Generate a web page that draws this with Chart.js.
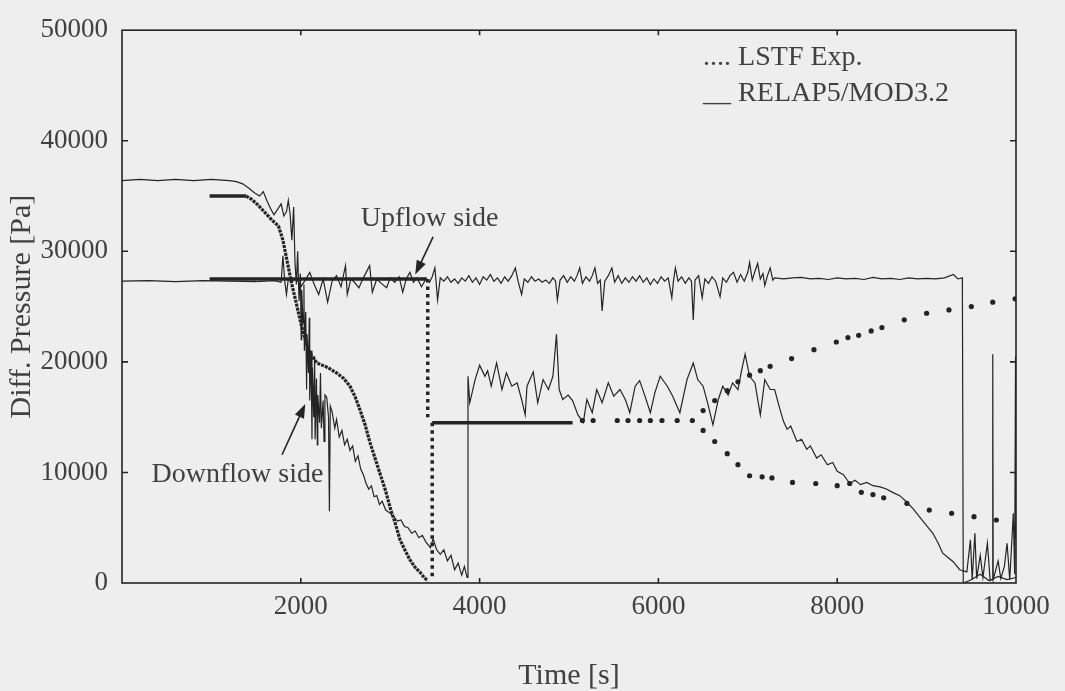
<!DOCTYPE html>
<html lang="en">
<head>
<meta charset="UTF-8">
<title>Diff. Pressure</title>
<script src="https://cdn.jsdelivr.net/npm/chart.js@4"></script>
<style>
  html, body { margin: 0; padding: 0; background: #eeeeee; }
  #wrap { width: 1065px; height: 691px; }
</style>
</head>
<body>
<div id="wrap"><canvas id="chart" width="1065" height="691"></canvas></div>
<script>
// tick values
const xTicks = [2000, 4000, 6000, 8000, 10000];
const yTicks = [0, 10000, 20000, 30000, 40000, 50000];

// RELAP5/MOD3.2, upflow side [time s, dp Pa]
const relapUp = [[0,27300],[300,27350],[600,27250],[900,27350],[1200,27300],[1500,27250],[1700,27350],[1780,27200],[1800,29600],[1820,27300],[1840,26100],[1860,27500],[1900,27200],[1950,27600],[2000,26800],[2050,27400],[2100,28100],[2150,27000],[2200,26100],[2250,27500],[2300,25400],[2350,27300],[2400,27800],[2450,26800],[2500,28700],[2520,26100],[2560,27500],[2600,27200],[2650,26700],[2700,27600],[2770,28700],[2800,26300],[2850,27500],[2900,27100],[2960,26700],[3000,27600],[3050,27200],[3100,27700],[3140,26300],[3180,27500],[3220,28100],[3260,27200],[3300,27600],[3350,26800],
  [3400,27500],[3440,27200],[3470,27700],[3500,28500],[3530,25600],[3560,27600],[3600,27300],[3640,27700],[3680,27200],[3720,27500],[3760,27100],[3800,27600],[3840,27300],[3880,27800],[3920,27200],[3960,27600],[4000,27000],[4040,27700],[4080,27400],[4120,27900],[4160,27300],[4200,27600],[4240,27100],[4280,27700],[4320,27300],[4360,27800],[4400,28500],[4430,27300],[4470,26100],[4500,27500],[4540,27200],[4580,27700],[4620,27300],[4660,27500],[4700,27200],[4740,27400],[4780,27100],[4820,27600],[4850,27300],[4870,25600],[4900,27400],[4940,27800],[4980,27200],[5020,27700],[5060,27300],[5090,27800],[5120,28500],[5150,27100],[5190,27700],[5230,27300],[5260,27800],[5290,28500],[5320,27100],[5350,27400],[5370,24600],[5400,27300],[5440,27800],[5480,28500],[5510,27200],[5550,27800],[5590,27100],[5630,27600],[5670,27200],[5710,27700],[5750,27300],[5790,27800],[5830,27200],[5870,27600],[5910,27000],[5950,27500],[5990,27100],[6030,27700],[6070,27300],[6110,27600],[6150,25800],[6170,27400],[6190,28500],[6220,27300],[6260,27700],[6300,27100],[6340,27600],[6370,27300],[6390,23800],[6410,27400],[6450,27800],[6490,25800],[6520,27500],[6560,27100],[6600,27700],[6640,27300],[6690,25900],[6720,27600],[6760,27200],[6800,27800],[6840,28100],[6880,27200],[6920,27900],[6960,27300],[7000,28100],[7020,29000],[7050,27400],[7080,28200],[7110,28900],[7140,27500],[7170,28000],[7190,26900],[7220,27800],[7250,28500],[7280,27400],
  [7300,27600],[7400,27500],[7500,27600],[7600,27650],[7700,27500],[7800,27550],[7900,27450],[8000,27600],[8100,27500],[8200,27550],[8300,27450],[8400,27650],[8500,27500],[8600,27550],[8700,27450],[8800,27600],[8900,27500],[9000,27550],[9100,27500],[9200,27600],[9300,27900],[9350,27500],[9400,27600],[9410,0],[9500,300],[9600,800],[9700,200],[9800,600],[9900,300],[10000,500]];

// RELAP5/MOD3.2, downflow side
const relapDown = [[0,36400],[200,36500],[400,36400],[600,36500],[800,36400],[1000,36500],[1200,36400],[1280,36300],[1350,36100],[1420,35700],[1480,35300],[1540,35000],[1580,35400],[1620,34600],[1660,33900],[1700,33300],[1740,33800],[1780,34300],[1810,33200],[1840,33600],[1860,34600],[1880,33400],[1900,31000],[1920,34000],[1935,29000],[1950,27000],[1965,30000],[1980,25500],[1995,28000],[2005,22000],[2010,26500],[2025,23500],[2035,27000],[2040,21000],[2055,24500],[2065,17500],[2070,22500],[2085,19000],[2095,24000],[2100,16500],[2115,21000],[2125,13000],[2130,19500],[2145,15000],[2155,20500],[2160,13000],[2175,18500],[2185,12500],[2190,17000],[2210,14500],[2220,19000],[2230,14000],[2250,16500],[2260,12800],[2270,17000],[2290,16800],[2310,15000],[2320,6500],[2330,16000],[2350,15500],[2380,14000],[2400,14800],[2430,13200],[2460,13800],[2490,12500],[2520,13000],[2550,12000],[2580,12400],[2610,11000],[2640,11500],[2670,10300],[2700,9800],[2730,9000],[2760,8500],[2790,8800],[2820,7800],[2850,7900],[2880,7100],[2910,7400],[2950,6600],[3000,6300],[3040,6000],[3080,5600],[3120,5700],[3160,5100],[3200,5000],[3240,4500],[3280,4700],[3320,4100],[3360,4300],[3400,3700],[3450,3200],[3480,4000],[3520,3000],[3560,2600],[3600,3000],[3640,2000],[3680,2500],[3720,1200],[3760,1800],[3800,700],[3830,1500],[3860,500],[3870,18700],[3890,16300],[3950,18400],[4000,19700],[4060,18700],[4090,19200],[4130,17800],[4190,19900],[4250,17500],[4300,19000],[4360,17800],[4420,18100],[4470,16600],[4510,15200],[4530,17800],[4600,19100],[4650,16300],[4710,18400],[4770,17500],[4820,18700],[4860,22500],[4890,17500],[4930,16600],[4990,17000],[5040,16500],[5100,15200],[5160,14500],[5200,16600],[5260,15400],[5310,17500],[5370,16300],[5440,18100],[5500,16900],[5570,17500],[5630,16600],[5680,15400],[5740,17800],[5790,18300],[5850,16900],[5910,15400],[5960,17200],[6020,18700],[6100,17800],[6160,16900],[6240,15400],[6320,18400],[6390,19900],[6440,18400],[6500,17800],[6550,16300],[6610,14300],[6670,16600],[6720,17800],[6780,17000],[6830,18100],[6890,17500],[6930,19200],[6970,20700],[7020,18700],[7080,18100],[7140,15200],[7190,18400],[7250,17500],[7300,17500],[7360,15700],[7400,14600],[7440,13900],[7480,14200],[7550,12800],[7600,13000],[7660,12100],[7700,12400],[7770,11300],[7820,11600],[7890,10700],[7950,10900],[8000,10100],[8070,9800],[8140,9000],[8200,9300],[8260,8900],[8330,9100],[8400,8800],[8480,8700],[8550,8500],[8620,8200],[8700,7900],[8780,7300],[8850,6700],[8930,5900],[9000,5200],[9070,4500],[9130,3600],[9180,2700],[9240,2300],[9300,1900],[9370,1200],[9450,1000],[9490,3900],[9510,300],[9540,4500],[9560,400],[9600,2500],[9630,500],[9680,3600],[9710,300],[9735,300],[9740,20700],[9745,300],[9800,2000],[9830,400],[9870,1500],[9900,3600],[9930,300],[9970,6300],[9985,800],[9995,20500],[10000,4000]];

// LSTF Exp., dense parts (markers merge into a thick trace)
const lstfUpDense = [[980,27500],[3410,27500]];
const lstfDownPlateau = [[980,35000],[1390,35000]];
const lstfDownCurve = [[1390,35000],[1450,34700],[1520,34200],[1600,33500],[1680,32800],[1750,32300],[1800,31000],[1850,29000],[1900,27000],[1950,25300],[2000,23500],[2050,22000],[2100,20800],[2180,19900],[2300,19500],[2400,19000],[2480,18500],[2550,17800],[2610,16800],[2660,15700],[2720,14300],[2770,12800],[2830,11300],[2890,9800],[2950,8300],[3000,6800],[3060,5300],[3110,3900],[3170,2900],[3220,2100],[3280,1400],[3330,1000],[3380,500],[3420,200]];
const lstfMerged = [[3470,14500],[5040,14500]];
// LSTF Exp., dotted jumps
const lstfUpDrop = [[3420,27500],[3420,15000]];
const lstfDownRise = [[3470,600],[3470,14500]];
// LSTF Exp., single markers
const lstfLevel = [[5150,14700],[5270,14700],[5540,14700],[5660,14700],[5790,14700],[5910,14700],[6040,14700],[6210,14700],[6380,14700]];
const lstfRise = [[6500,15600],[6630,16500],[6770,17400],[6890,18200],[7020,18800],[7140,19200],[7250,19600],[7490,20300],[7740,21100],[7990,21800],[8120,22200],[8240,22400],[8380,22800],[8500,23100],[8750,23800],[9000,24400],[9250,24700],[9500,25000],[9740,25400],[9990,25700]];
const lstfFall = [[6500,13800],[6630,12800],[6770,11700],[6890,10700],[7020,9700],[7160,9600],[7270,9500],[7500,9100],[7760,9000],[8000,8800],[8140,9000],[8270,8200],[8400,8000],[8520,7700],[8780,7200],[9030,6600],[9280,6300],[9530,6000],[9780,5700]];

const ink = '#242424';
const textInk = '#404040';
const serif = '"Liberation Serif", "DejaVu Serif", serif';
const tickFont = { family: serif, size: 27 };
const titleFont = { family: serif, size: 30, lineHeight: 1 };

const toXY = arr => arr.map(([x, y]) => ({ x, y }));
const line = (label, arr, width, dash) => ({
  label, data: toXY(arr), showLine: true, borderColor: ink, borderWidth: width,
  borderDash: dash || [], pointRadius: 0, tension: 0
});
const dots = (label, arr) => ({
  label, data: toXY(arr), showLine: false, pointRadius: 2.6,
  pointBackgroundColor: ink, pointBorderWidth: 0
});

function arrow(ctx, x1, y1, x2, y2) {
  const ang = Math.atan2(y2 - y1, x2 - x1);
  ctx.beginPath();
  ctx.moveTo(x1, y1);
  ctx.lineTo(x2 - 8 * Math.cos(ang), y2 - 8 * Math.sin(ang));
  ctx.stroke();
  ctx.beginPath();
  ctx.moveTo(x2, y2);
  ctx.lineTo(x2 - 14 * Math.cos(ang) + 5 * Math.sin(ang), y2 - 14 * Math.sin(ang) - 5 * Math.cos(ang));
  ctx.lineTo(x2 - 14 * Math.cos(ang) - 5 * Math.sin(ang), y2 - 14 * Math.sin(ang) + 5 * Math.cos(ang));
  ctx.closePath();
  ctx.fill();
}

const framePlugin = {
  id: 'frame',
  beforeDatasetsDraw(chart) {
    const { ctx, chartArea: a, scales: { x, y } } = chart;
    ctx.save();
    ctx.strokeStyle = ink;
    ctx.lineWidth = 1.6;
    ctx.strokeRect(a.left, a.top, a.right - a.left, a.bottom - a.top);
    ctx.beginPath();
    xTicks.slice(0, -1).forEach(v => {
      const px = x.getPixelForValue(v);
      ctx.moveTo(px, a.bottom); ctx.lineTo(px, a.bottom - 5);
      ctx.moveTo(px, a.top); ctx.lineTo(px, a.top + 5);
    });
    yTicks.slice(1, -1).forEach(v => {
      const py = y.getPixelForValue(v);
      ctx.moveTo(a.left, py); ctx.lineTo(a.left + 6, py);
      ctx.moveTo(a.right, py); ctx.lineTo(a.right - 6, py);
    });
    ctx.stroke();
    ctx.restore();
  },
  afterDraw(chart) {
    const { ctx, scales: { x, y } } = chart;
    ctx.save();
    ctx.fillStyle = textInk;
    ctx.font = '28px ' + serif;
    ctx.textBaseline = 'middle';
    ctx.textAlign = 'left';
    ctx.fillText('Upflow side', x.getPixelForValue(2670), y.getPixelForValue(33000));
    ctx.fillText('Downflow side', x.getPixelForValue(330), y.getPixelForValue(9800));
    ctx.fillText('.... LSTF Exp.', x.getPixelForValue(6500), y.getPixelForValue(47500));
    ctx.fillText('__ RELAP5/MOD3.2', x.getPixelForValue(6500), y.getPixelForValue(44300));
    ctx.strokeStyle = ink;
    ctx.fillStyle = ink;
    ctx.lineWidth = 1.6;
    arrow(ctx, x.getPixelForValue(3480), y.getPixelForValue(31300), x.getPixelForValue(3280), y.getPixelForValue(27900));
    arrow(ctx, x.getPixelForValue(1790), y.getPixelForValue(11600), x.getPixelForValue(2050), y.getPixelForValue(16200));
    ctx.restore();
  }
};

new Chart(document.getElementById('chart'), {
  type: 'scatter',
  data: {
    datasets: [
      line('RELAP5 upflow', relapUp, 1.2),
      line('RELAP5 downflow', relapDown, 1.2),
      line('LSTF upflow', lstfUpDense, 3.5),
      line('LSTF downflow plateau', lstfDownPlateau, 3.5),
      line('LSTF downflow', lstfDownCurve, 3.2, [3, 1]),
      line('LSTF merged', lstfMerged, 3.5),
      line('LSTF upflow drop', lstfUpDrop, 3.5, [3.5, 4]),
      line('LSTF downflow rise', lstfDownRise, 3.5, [3.5, 4]),
      dots('LSTF level', lstfLevel),
      dots('LSTF rise', lstfRise),
      dots('LSTF fall', lstfFall)
    ]
  },
  options: {
    responsive: false,
    animation: false,
    devicePixelRatio: 1,
    layout: { padding: { top: 19, right: 49, left: 0, bottom: 0 } },
    plugins: { legend: { display: false }, tooltip: { enabled: false } },
    scales: {
      x: {
        type: 'linear', min: 0, max: 10000,
        afterFit: s => { s.height = 108; },
        grid: { display: false, drawTicks: false },
        border: { display: false },
        ticks: {
          stepSize: 2000, autoSkip: false, padding: 8, color: textInk, font: tickFont,
          callback: v => (v === 0 ? '' : String(v))
        },
        title: { display: true, text: 'Time [s]', color: textInk, font: titleFont, padding: { top: 0, bottom: 0 } }
      },
      y: {
        type: 'linear', min: 0, max: 50000,
        afterFit: s => { s.width = 122; },
        grid: { display: false, drawTicks: false },
        border: { display: false },
        ticks: { stepSize: 10000, padding: 14, color: textInk, font: tickFont, callback: v => String(v) },
        title: { display: true, text: 'Diff. Pressure [Pa]', color: textInk, font: titleFont, padding: { top: 7, bottom: 0 } }
      }
    }
  },
  plugins: [framePlugin]
});
</script>
</body>
</html>
